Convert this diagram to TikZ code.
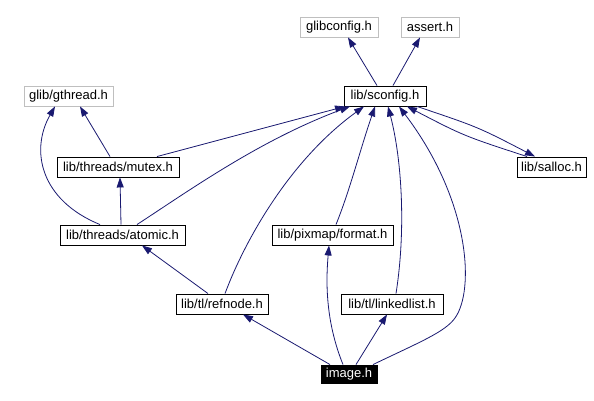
\documentclass[tikz,border=0pt]{standalone}
\usepackage{fontspec}
\setmainfont{Liberation Sans}
\usepackage{tikz}
\usetikzlibrary{arrows.meta,positioning}
\definecolor{edgeblue}{HTML}{191970}
\definecolor{extgray}{HTML}{BFBFBF}

\begin{document}
\begin{tikzpicture}[
  x=1pt,y=-1pt,
  font=\fontsize{13}{15}\selectfont,
  file/.style={draw=black,line width=0.9pt,inner sep=0pt,minimum height=20pt,anchor=center},
  ext/.style={file,draw=extgray},
  cur/.style={file,fill=black,text=white,minimum height=18pt},
  arr/.style={-{Triangle[length=10pt,width=7pt]},draw=edgeblue,line width=0.8pt}
]
\useasboundingbox (0,0) rectangle (594,401);
% top level headers
\node[ext,minimum width=78pt] (glibconfig) at (339,27) {glibconfig.h};
\node[ext,minimum width=58pt] (assert) at (430,27) {assert.h};
\node[file,minimum width=82pt] (sconfig) at (385,96) {lib/sconfig.h};
\node[ext,minimum width=89pt] (gthread) at (68.5,96) {glib/gthread.h};

% middle layer
\node[file,minimum width=122pt] (mutex) at (118,167) {lib/threads/mutex.h};
\node[file,minimum width=69pt] (salloc) at (551.5,167) {lib/salloc.h};
\node[file,minimum width=125pt] (atomic) at (122.5,235) {lib/threads/atomic.h};
\node[file,minimum width=121pt] (format) at (332.5,235) {lib/pixmap/format.h};
\node[file,minimum width=92pt] (refnode) at (222,304) {lib/tl/refnode.h};
\node[file,minimum width=102pt] (linkedlist) at (392,304) {lib/tl/linkedlist.h};

% the file itself
\node[cur,minimum width=56pt] (image) at (349,374) {image.h};

% arrows
\draw[arr] ([xshift=-8pt]sconfig.north) -- ([xshift=9pt]glibconfig.south);
\draw[arr] ([xshift=8pt]sconfig.north) -- ([xshift=-10pt]assert.south);
\draw[arr] ([xshift=-8pt]mutex.north) -- ([xshift=11.5pt]gthread.south);
\draw[arr] ([xshift=39pt]mutex.north) -- ([xshift=-40pt]sconfig.south);
\draw[arr] ([xshift=-22.5pt]atomic.north) .. controls (40,200) and (30,150) .. ([xshift=-13.5pt]gthread.south);
\draw[arr] ([xshift=-1.5pt]atomic.north) -- ([xshift=2pt]mutex.south);
\draw[arr] ([xshift=14.5pt]atomic.north) .. controls (190,190) and (260,140) .. ([xshift=-35pt]sconfig.south);
\draw[arr] ([xshift=-24.5pt]salloc.north) .. controls (464,136) .. ([xshift=22pt]sconfig.south);
\draw[arr] ([xshift=32pt]sconfig.south) .. controls (478,127) .. ([xshift=-16.5pt]salloc.north);
\draw[arr] ([xshift=-14pt]refnode.north) -- ([xshift=19.5pt]atomic.south);
\draw[arr] ([xshift=3pt]refnode.north) .. controls (245,240) and (290,160) .. ([xshift=-21pt]sconfig.south);
\draw[arr] ([xshift=3.5pt]format.north) .. controls (350,190) and (360,150) .. ([xshift=-10pt]sconfig.south);
\draw[arr] ([xshift=4pt]linkedlist.north) .. controls (406,230) and (402,160) .. ([xshift=3pt]sconfig.south);
\draw[arr] ([xshift=-19pt]image.north) -- ([xshift=21pt]refnode.south);
\draw[arr] ([xshift=-6pt]image.north) .. controls (325,320) and (326,280) .. ([xshift=-3.5pt]format.south);
\draw[arr] ([xshift=7pt]image.north) -- ([xshift=-5pt]linkedlist.south);
\draw[arr] ([xshift=24pt]image.north) .. controls (420,342) and (445,332) .. (455,318)
  .. controls (475,290) and (470,200) .. ([xshift=14pt]sconfig.south);
\end{tikzpicture}
\end{document}
